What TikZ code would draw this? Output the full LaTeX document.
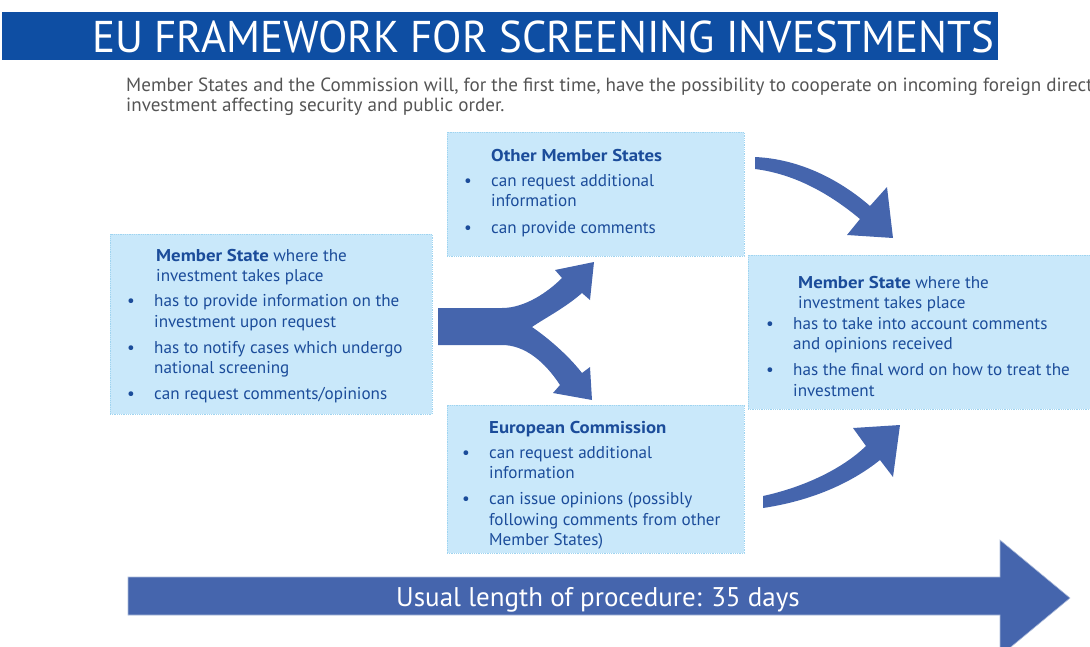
\documentclass[tikz,border=0pt]{standalone}
\usepackage{fontspec}
\setmainfont{PT Sans}[BoldFeatures={FakeStretch=1.1}]
\newfontfamily\titlefont{PT Sans}[FakeStretch=0.965]
\definecolor{eublue}{HTML}{0E4EA3}
\definecolor{flow}{HTML}{4565AD}
\definecolor{boxfill}{HTML}{C9E8FA}
\definecolor{boxedge}{HTML}{9FD4F0}
\definecolor{boxink}{HTML}{1B4C9A}
\definecolor{leadgray}{HTML}{555555}
\newcommand\bul{\textbullet}
\begin{document}
\begin{tikzpicture}[x=1pt,y=-1pt,
  infobox/.style={draw=boxedge, densely dotted, line width=0.8pt, fill=boxfill,
    anchor=north west, inner sep=0pt, outer sep=0pt},
  boxtxt/.style={anchor=base west, inner sep=0pt, text=boxink,
    font=\fontsize{17.1}{20.5}\selectfont},
  blockarrow/.style={fill=flow, draw=none}]
\useasboundingbox (0,0) rectangle (1090,646);

% title banner
\node[fill=eublue, anchor=north west, minimum width=996pt, minimum height=48pt,
  inner sep=0pt] (banner) at (2,12) {};
\node[anchor=base west, inner sep=0pt, text=white,
  font=\titlefont\fontsize{44.5}{44}\selectfont] (title) at (92,52)
  {EU FRAMEWORK FOR SCREENING INVESTMENTS};

% lead paragraph
\node[anchor=base west, inner sep=0pt, text=leadgray,
  font=\fontsize{19.1}{20}\selectfont] (lead) at (126,91)
  {\begin{tabular}[t]{@{}l@{}}
   Member States and the Commission will, for the first time, have the possibility to cooperate on incoming foreign direct\\
   investment affecting security and public order.
   \end{tabular}};

% boxes
\node[infobox, minimum width=322pt, minimum height=180pt] (ms) at (110,234) {};
\node[infobox, minimum width=297pt, minimum height=124pt] (oms) at (447,132) {};
\node[infobox, minimum width=297pt, minimum height=148pt] (ec) at (447,405) {};
\node[infobox, minimum width=345pt, minimum height=154pt] (fin) at (748,255) {};

\node[boxtxt] (msT) at (127,261) {\begin{tabular}[t]{@{}p{27pt}@{}l@{}}
 & \hspace{2pt}\textbf{Member State} where the\\
 & \hspace{2pt}investment takes place\\[4.5pt]
\bul & has to provide information on the\\
 & investment upon request\\[5.5pt]
\bul & has to notify cases which undergo\\
 & national screening\\[5.5pt]
\bul & can request comments/opinions
\end{tabular}};

\node[boxtxt] (omsT) at (464,161) {\begin{tabular}[t]{@{}p{27pt}@{}l@{}}
 & \textbf{Other Member States}\\[4.5pt]
\bul & can request additional\\
 & information\\[6pt]
\bul & can provide comments
\end{tabular}};

\node[boxtxt] (ecT) at (462,433) {\begin{tabular}[t]{@{}p{27pt}@{}l@{}}
 & \textbf{European Commission}\\[4.5pt]
\bul & can request additional\\
 & information\\[5.5pt]
\bul & can issue opinions (possibly\\
 & following comments from other\\
 & Member States)
\end{tabular}};

\node[boxtxt] (finT) at (766,288) {\begin{tabular}[t]{@{}p{27pt}@{}l@{}}
 & \hspace{5pt}\textbf{Member State} where the\\
 & \hspace{5pt}investment takes place\\
\bul & has to take into account comments\\
 & and opinions received\\[5.5pt]
\bul & has the final word on how to treat the\\
 & investment
\end{tabular}};

% fork arrow leaving the notifying Member State
\fill[blockarrow] (438,308) -- (502,308)
  .. controls (525,308) and (548,292) .. (562,278)
  -- (555,270) -- (594,262) -- (590,300) -- (582,293)
  .. controls (565,308) and (545,318) .. (532,327)
  .. controls (548,338) and (568,355) .. (582,373)
  -- (590,367) -- (592,400) -- (553,393) -- (560,385)
  .. controls (545,362) and (525,345) .. (502,345)
  -- (438,345) -- cycle;

% curved arrow from the other Member States
\fill[blockarrow] (755,157)
  .. controls (800,159) and (840,180) .. (870,206)
  -- (887,187) -- (893,238) -- (847,235) -- (860,219)
  .. controls (830,194) and (795,174) .. (755,169) -- cycle;

% curved arrow from the Commission
\fill[blockarrow] (763,496)
  .. controls (800,488) and (840,471) .. (866,446)
  -- (853,428) -- (900,425) -- (893,477) -- (880,460)
  .. controls (850,484) and (810,501) .. (763,508) -- cycle;

% timeline arrow
\path[blockarrow, draw=flow!45, line width=0.6pt] (128,577) -- (1000,577) -- (1000,540)
  -- (1070,598) -- (1000,656) -- (1000,615) -- (128,615) -- cycle;
\node[text=white, inner sep=0pt, font=\fontsize{27}{27}\selectfont] (days) at (598,600)
  {Usual length of procedure: 35 days};
\end{tikzpicture}
\end{document}
